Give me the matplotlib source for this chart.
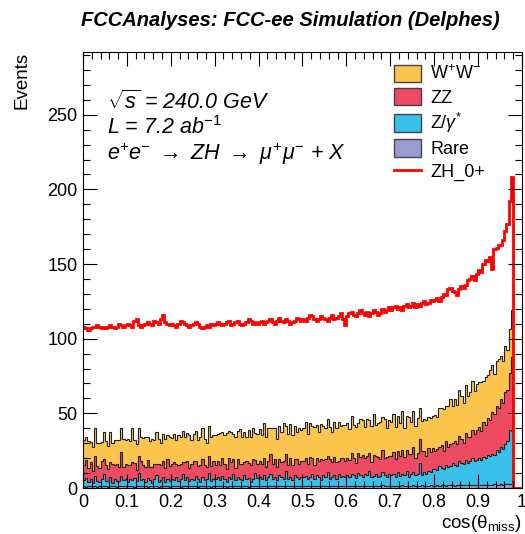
import numpy as np
import matplotlib.pyplot as plt
from matplotlib.patches import Patch
from matplotlib.lines import Line2D
from matplotlib.ticker import MultipleLocator

plt.rcParams['font.family'] = 'Liberation Sans'
plt.rcParams['mathtext.fontset'] = 'custom'
plt.rcParams['mathtext.rm'] = 'Liberation Sans'
plt.rcParams['mathtext.it'] = 'Liberation Sans:italic'

# 200 bins of cos(theta_miss) in [0, 1]
edges = np.linspace(0, 1, 201)

ww = [17,15,18,14,16,19,15,17,13,18,16,15,20,14,17,16,18,16,19,16,
      18,16,23,15,17,19,16,18,20,15,17,19,16,21,17,15,18,20,16,19,
      17,19,16,20,18,21,17,19,22,16,18,20,17,19,21,18,16,20,19,17,
      20,18,22,17,19,24,18,20,17,21,19,23,18,20,16,22,19,21,18,20,
      21,19,23,20,22,18,24,21,19,22,20,25,19,21,23,20,22,18,24,21,
      22,24,20,23,21,26,22,19,24,23,21,25,22,20,24,23,26,21,22,24,
      23,21,25,22,24,20,26,23,21,25,22,24,27,21,23,25,22,26,20,24,
      23,25,21,24,22,26,20,23,25,22,24,21,23,21,20,22,24,21,23,22,
      24,22,26,25,28,23,27,30,25,28,26,31,29,27,32,28,30,33,29,31,
      30,33,28,32,29,34,31,27,30,33,29,28,31,27,30,31,0,0,0,0]

zz = [10,12,9,11,8,13,10,9,12,10,11,8,10,13,9,11,10,16,9,10,
      11,9,12,10,8,11,13,9,10,12,9,11,10,8,12,10,11,9,13,10,
      10,12,9,11,10,8,12,11,9,10,13,10,9,11,12,10,8,11,10,12,
      9,11,10,12,10,9,13,11,10,8,12,10,11,9,12,10,11,13,9,10,
      11,10,12,9,11,13,10,12,9,11,10,12,11,9,13,10,11,12,10,11,
      11,12,10,13,11,9,12,11,14,10,12,11,13,10,12,11,9,13,12,11,
      12,11,14,12,10,13,12,15,11,13,12,10,14,12,13,11,15,12,13,12,
      13,15,12,14,13,16,12,14,15,13,17,12,14,16,16,14,12,15,13,14,
      12,14,13,15,12,16,14,15,13,16,15,17,16,14,18,17,16,19,18,20,
      21,19,23,22,25,24,28,27,30,29,32,31,35,34,38,50,0,0,0,0]

zgamma = [4,6,3,5,2,7,4,3,5,8,3,4,6,2,5,4,3,7,4,5,
          3,5,4,6,3,9,4,5,3,6,4,2,5,7,3,4,6,3,5,4,
          5,4,6,3,5,8,4,6,3,5,4,7,5,3,6,4,5,9,4,5,
          5,6,4,7,5,3,6,5,8,4,6,5,4,7,5,6,3,5,9,5,
          6,5,7,4,6,8,5,6,4,7,6,5,10,5,6,4,7,6,5,6,
          6,7,5,6,8,5,7,6,4,7,6,9,5,6,7,5,8,6,7,6,
          7,6,8,7,5,9,7,6,8,7,10,6,7,8,6,7,9,7,6,8,
          7,8,6,9,7,8,7,10,6,8,9,7,8,15,7,9,8,10,9,11,
          11,10,13,12,11,14,12,13,15,14,13,16,15,14,17,15,16,18,16,17,
          18,17,19,18,20,19,21,20,23,22,25,24,27,29,36,35,0,0,0,0]

rare = [1.2,1.0,1.3,1.1,1.4,1.2,0.9,1.3,1.1,1.2,1.5,1.0,1.2,1.3,1.1,1.0,1.4,1.2,1.1,1.3,
        1.1,1.3,1.2,1.0,1.4,1.2,1.1,1.3,1.2,1.0,1.3,1.1,1.2,1.4,1.0,1.2,1.3,1.1,1.2,1.0,
        1.3,1.1,1.2,1.4,1.0,1.2,1.3,1.1,1.5,1.2,1.1,1.3,1.0,1.2,1.4,1.1,1.2,1.3,1.0,1.2,
        1.2,1.4,1.1,1.3,1.2,1.0,1.3,1.2,1.4,1.1,1.2,1.3,1.1,1.5,1.2,1.0,1.3,1.2,1.1,1.4,
        1.3,1.2,1.4,1.1,1.3,1.5,1.2,1.3,1.1,1.4,1.2,1.3,1.6,1.2,1.1,1.3,1.4,1.2,1.3,1.1,
        1.4,1.3,1.2,1.5,1.3,1.1,1.4,1.3,1.2,1.6,1.3,1.4,1.2,1.3,1.5,1.2,1.4,1.3,1.1,1.4,
        1.4,1.5,1.3,1.4,1.6,1.3,1.5,1.4,1.2,1.5,1.4,1.6,1.3,1.4,1.5,1.3,1.7,1.4,1.5,1.3,
        1.5,1.4,1.6,1.5,1.3,1.7,1.5,1.4,1.6,1.5,1.8,1.4,1.6,1.5,1.7,1.5,1.4,1.6,1.8,1.5,
        1.6,1.8,1.5,1.7,1.9,1.6,1.8,1.7,2.0,1.6,1.8,1.9,1.7,2.1,1.8,1.9,2.0,1.8,2.2,1.9,
        2.0,2.1,1.9,2.2,2.0,2.3,2.1,2.4,2.2,2.3,2.5,2.2,2.4,2.6,2.7,3.0,0,0,0,0]

zh = [108,107,106,107,108,108,109,108,107,108,107,108,109,108,107,108,110,109,108,109,
      110,109,108,112,113,109,108,109,110,111,110,109,112,111,110,113,116,111,110,109,
      110,109,108,110,112,111,110,109,108,109,110,111,110,108,107,108,109,108,110,109,
      110,111,110,109,110,111,112,109,110,111,112,110,109,110,111,113,112,110,111,110,
      111,112,110,111,112,113,111,110,112,114,112,111,113,112,110,111,112,114,113,112,
      113,112,114,116,115,113,112,113,115,114,113,112,114,116,113,114,115,117,113,109,
      115,117,118,116,115,117,119,117,116,118,115,117,119,118,116,117,120,118,119,121,
      119,121,122,120,121,119,122,123,121,122,124,121,123,122,124,125,123,124,126,125,
      126,127,125,128,130,129,133,134,132,131,129,133,135,134,136,139,140,142,139,143,
      146,145,150,153,152,155,147,160,161,163,163,166,172,177,192,208,0,0,0,0]

labels = ['W$^{+}$W$^{-}$', 'ZZ', 'Z/$\\gamma^{*}$', 'Rare']
colors = ['#fdc54e', '#ee4a62', '#38c0ea', '#9c9bd1']

fig = plt.figure(figsize=(5.25, 5.34), dpi=100)
ax = fig.add_axes([0.158, 0.0861, 0.836, 0.8165])

# stack from the bottom: rare, Z/gamma, ZZ, WW
stack = [rare, zgamma, zz, ww]
cum = np.cumsum(np.array(stack, dtype=float), axis=0)
for k in range(3, -1, -1):
    c = colors[3 - k]
    ax.stairs(cum[k], edges, baseline=0, fill=True, color=c, lw=0)
    ax.stairs(cum[k], edges, baseline=None, color='#222222', lw=0.8)

ax.stairs(zh, edges, baseline=None, color='red', lw=2)

ax.set_xlim(0, 1)
ax.set_ylim(0, 292)
ax.xaxis.set_major_locator(MultipleLocator(0.1))
ax.xaxis.set_minor_locator(MultipleLocator(0.02))
ax.yaxis.set_major_locator(MultipleLocator(50))
ax.yaxis.set_minor_locator(MultipleLocator(10))
ax.set_xticks(np.arange(0, 1.01, 0.1))
ax.set_xticklabels(['0', '0.1', '0.2', '0.3', '0.4', '0.5', '0.6', '0.7', '0.8', '0.9', '1'])
ax.tick_params(which='both', direction='in', top=True, right=True, labelsize=13, pad=4)
ax.tick_params(which='major', length=10, width=0.8)
ax.tick_params(which='minor', length=5, width=0.8)

ax.set_ylabel('Events', fontsize=13.5, loc='top', labelpad=12)
ax.set_xlabel('cos(θ$_{\\mathrm{miss}}$)', fontsize=13.5, loc='right', labelpad=2)

fig.text(0.554, 0.962, 'FCCAnalyses: FCC-ee Simulation (Delphes)', ha='center', va='center',
         fontsize=14.5, fontweight='bold', fontstyle='italic')

ax.text(0.055, 0.885, '$\\sqrt{s}$ = 240.0 GeV', transform=ax.transAxes, fontsize=15.5, style='italic', va='center')
ax.text(0.055, 0.826, 'L = 7.2 ab$^{-1}$', transform=ax.transAxes, fontsize=15.5, style='italic', va='center')
ax.text(0.055, 0.766, 'e$^{+}$e$^{-}$ $\\rightarrow$ ZH $\\rightarrow$ $\\mu^{+}\\mu^{-}$ + X',
        transform=ax.transAxes, fontsize=15.5, style='italic', va='center')

handles = [Patch(facecolor=c, edgecolor='#444444', lw=1) for c in colors]
handles.append(Line2D([], [], color='red', lw=2))
ax.legend(handles, labels + ['ZH_0+'], loc='upper left', bbox_to_anchor=(0.68, 1.0),
          frameon=False, fontsize=13, handlelength=1.5, handleheight=1.1,
          labelspacing=0.24, handletextpad=0.5, borderaxespad=0.3)

fig.savefig('out.png', dpi=100)
